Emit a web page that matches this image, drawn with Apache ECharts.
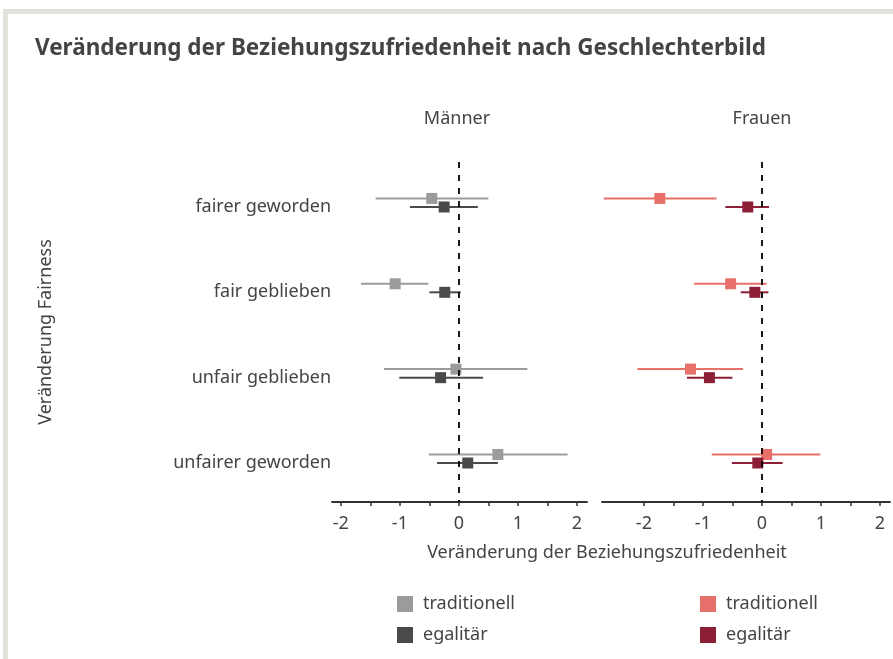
<!DOCTYPE html>
<html>
<head>
<meta charset="utf-8">
<script src="https://cdn.jsdelivr.net/npm/echarts@6/dist/echarts.min.js"></script>
<style>
  html, body { margin: 0; padding: 0; background: #fff; }
  #chart { width: 893px; height: 659px; }
  #frame {
    position: absolute; left: 3px; top: 9px; width: 890px; height: 650px;
    border-top: 5px solid #e2e2dd; border-left: 5px solid #e2e2dd;
    box-sizing: border-box; pointer-events: none;
  }
</style>
</head>
<body>
<div id="chart"></div>
<div id="frame"></div>
<script>
const categories = ['fairer geworden', 'fair geblieben', 'unfair geblieben', 'unfairer geworden']

// Männer
const menTradMean = [-0.46, -1.08, -0.05, 0.66]
const menTradLow = [-1.41, -1.66, -1.27, -0.51]
const menTradHigh = [0.50, -0.52, 1.16, 1.84]
const menEgalMean = [-0.25, -0.24, -0.31, 0.15]
const menEgalLow = [-0.83, -0.50, -1.01, -0.37]
const menEgalHigh = [0.32, 0.03, 0.41, 0.66]

// Frauen
const womenTradMean = [-1.73, -0.53, -1.21, 0.08]
const womenTradLow = [-2.68, -1.15, -2.11, -0.85]
const womenTradHigh = [-0.77, 0.08, -0.32, 0.99]
const womenEgalMean = [-0.24, -0.12, -0.89, -0.07]
const womenEgalLow = [-0.62, -0.36, -1.27, -0.51]
const womenEgalHigh = [0.12, 0.11, -0.50, 0.35]

const xTicks = [-2, -1.5, -1, -0.5, 0, 0.5, 1, 1.5, 2]
const xLabels = [-2, -1, 0, 1, 2]
const yPositions = [1, 2, 3, 4]

const textColor = '#444'
const font = 'Noto Sans'
const fs = 18

// traditionell sitzt etwas oberhalb der Kategorie
const dodge = 0.1

function rows(mean, low, high, shift) {
  return mean.map((m, i) => [m, low[i], high[i], yPositions[i] - shift])
}

function errorSeries(name, idx, data, color) {
  return {
    name,
    type: 'custom',
    xAxisIndex: idx,
    yAxisIndex: idx,
    itemStyle: { color },
    data,
    renderItem: (params, api) => {
      const y = api.value(3)
      const lo = api.coord([api.value(1), y])
      const hi = api.coord([api.value(2), y])
      const c = api.coord([api.value(0), y])
      const s = 11
      return {
        type: 'group',
        children: [
          {
            type: 'line',
            shape: { x1: lo[0], y1: lo[1], x2: hi[0], y2: hi[1] },
            style: { stroke: color, lineWidth: 2 },
          },
          {
            type: 'rect',
            shape: { x: c[0] - s / 2, y: c[1] - s / 2, width: s, height: s },
            style: { fill: color },
          },
        ],
      }
    },
  }
}

function zeroLine(idx) {
  return {
    type: 'line',
    xAxisIndex: idx,
    yAxisIndex: idx,
    data: [],
    markLine: {
      silent: true,
      symbol: ['none', 'none'],
      label: { show: false },
      lineStyle: { color: '#000', type: [6, 7], width: 1.8 },
      data: [{ xAxis: 0 }],
    },
  }
}

function xAxis(idx, min, max) {
  return {
    gridIndex: idx,
    type: 'value',
    min,
    max,
    splitLine: { show: false },
    axisLine: { lineStyle: { color: '#333', width: 2 } },
    axisTick: { customValues: xTicks, length: 4, lineStyle: { color: '#333', width: 1.5 } },
    axisLabel: { customValues: xLabels, fontSize: fs, color: textColor, fontFamily: font, margin: 13 },
  }
}

function yAxis(idx, showLabels) {
  return {
    gridIndex: idx,
    type: 'value',
    inverse: true,
    min: 0.473,
    max: 4.457,
    splitLine: { show: false },
    axisLine: { show: false },
    axisTick: { show: false },
    axisLabel: {
      show: showLabels,
      customValues: yPositions,
      formatter: (v) => categories[v - 1],
      fontSize: fs,
      color: textColor,
      fontFamily: font,
      margin: 1,
    },
    name: showLabels ? 'Veränderung Fairness' : '',
    nameLocation: 'middle',
    nameRotate: 90,
    nameGap: 277,
    nameTextStyle: { fontSize: fs, color: textColor, fontFamily: font },
  }
}

const legendBase = {
  orient: 'vertical',
  top: 595,
  itemWidth: 16,
  itemHeight: 16,
  itemGap: 13,
  icon: 'rect',
  padding: 0,
  selectedMode: false,
  formatter: (name) => name.split(' ')[1],
  textStyle: { fontSize: fs, color: textColor, fontFamily: font, padding: [0, 0, 0, 5] },
}

const chart = echarts.init(document.getElementById('chart'))
chart.setOption({
  animation: false,
  textStyle: { fontFamily: font },
  title: [
    {
      text: 'Veränderung der Beziehungszufriedenheit nach Geschlechterbild',
      left: 35,
      top: 37,
      padding: 0,
      textStyle: { fontSize: 22.5, fontWeight: 'bold', color: textColor, fontFamily: font },
    },
    {
      text: 'Männer',
      left: 457,
      top: 110,
      padding: 0,
      textAlign: 'center',
      textStyle: { fontSize: fs, fontWeight: 'normal', color: textColor, fontFamily: font },
    },
    {
      text: 'Frauen',
      left: 762,
      top: 110,
      padding: 0,
      textAlign: 'center',
      textStyle: { fontSize: fs, fontWeight: 'normal', color: textColor, fontFamily: font },
    },
    {
      text: 'Veränderung der Beziehungszufriedenheit',
      left: 607,
      top: 544,
      padding: 0,
      textAlign: 'center',
      textStyle: { fontSize: fs, fontWeight: 'normal', color: textColor, fontFamily: font },
    },
  ],
  legend: [
    { ...legendBase, left: 397, data: ['Männer traditionell', 'Männer egalitär'] },
    { ...legendBase, left: 700, data: ['Frauen traditionell', 'Frauen egalitär'] },
  ],
  grid: [
    { left: 332, top: 162, width: 255, height: 340 },
    { left: 602, top: 162, width: 288, height: 340 },
  ],
  xAxis: [xAxis(0, -2.15, 2.17), xAxis(1, -2.71, 2.17)],
  yAxis: [yAxis(0, true), yAxis(1, false)],
  series: [
    zeroLine(0),
    zeroLine(1),
    errorSeries('Männer traditionell', 0, rows(menTradMean, menTradLow, menTradHigh, dodge), '#9b9b9b'),
    errorSeries('Männer egalitär', 0, rows(menEgalMean, menEgalLow, menEgalHigh, 0), '#4a4a4a'),
    errorSeries('Frauen traditionell', 1, rows(womenTradMean, womenTradLow, womenTradHigh, dodge), '#e8706a'),
    errorSeries('Frauen egalitär', 1, rows(womenEgalMean, womenEgalLow, womenEgalHigh, 0), '#8c1f36'),
  ],
})
</script>
</body>
</html>
